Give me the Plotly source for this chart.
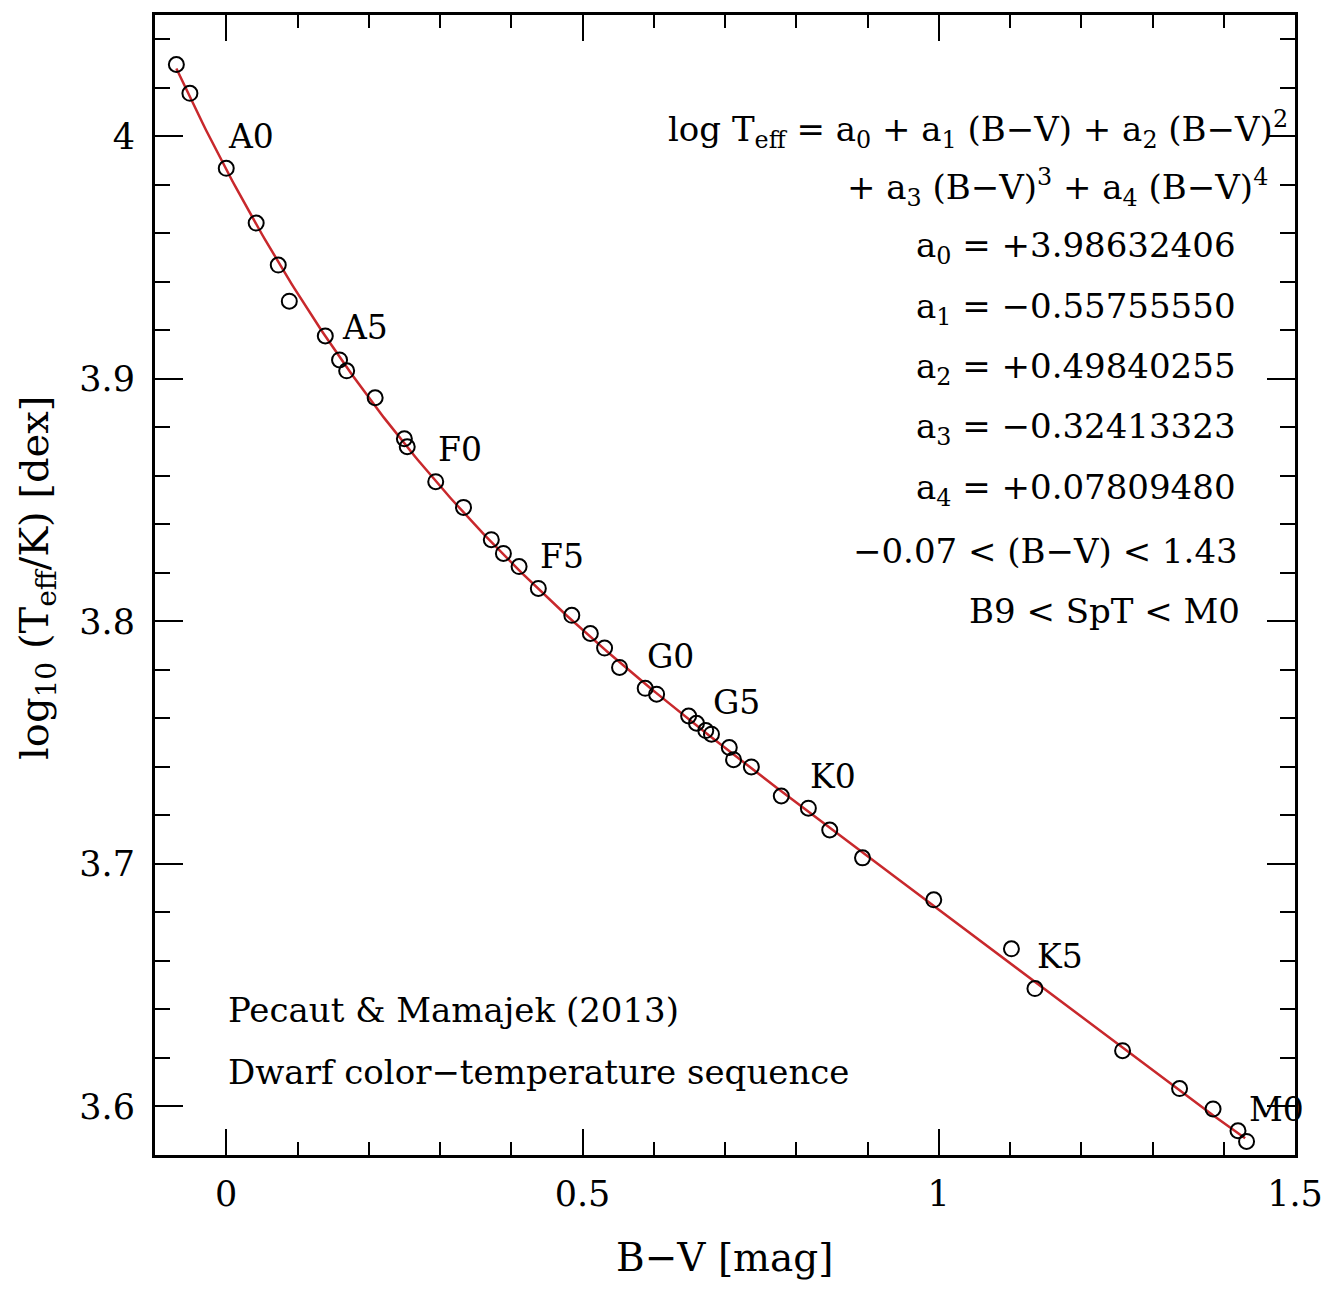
import numpy as np
import plotly.graph_objects as go

# B-V colour [mag] and log10(Teff/K) of the dwarf sequence (B9V ... M0V)
bv = [-0.070, -0.051, 0.000, 0.042, 0.073, 0.0885, 0.139, 0.159, 0.169, 0.209,
      0.250, 0.254, 0.294, 0.333, 0.372, 0.389, 0.411, 0.438, 0.485, 0.511,
      0.531, 0.552, 0.588, 0.604, 0.649, 0.660, 0.673, 0.681, 0.706, 0.712,
      0.737, 0.779, 0.817, 0.847, 0.893, 0.993, 1.102, 1.135, 1.258, 1.338,
      1.385, 1.420, 1.432]
log_teff = [4.0296, 4.0177, 3.9868, 3.9642, 3.9469, 3.9320, 3.9177, 3.9078, 3.9033, 3.8922,
            3.8753, 3.8720, 3.8576, 3.8470, 3.8337, 3.8280, 3.8226, 3.8136, 3.8025, 3.7950,
            3.7890, 3.7810, 3.7724, 3.7700, 3.7610, 3.7580, 3.7550, 3.7535, 3.7480, 3.7430,
            3.7400, 3.7280, 3.7230, 3.7140, 3.7025, 3.6852, 3.6650, 3.6486, 3.6230, 3.6074,
            3.5990, 3.5900, 3.5856]

# spectral type labels and the index of the point they mark
spt_labels = ["A0", "A5", "F0", "F5", "G0", "G5", "K0", "K5", "M0"]
spt_index = [2, 7, 12, 17, 22, 27, 32, 37, 42]

# polynomial fit coefficients a0..a4 and validity range
coeffs = [3.98632406, -0.55755550, 0.49840255, -0.32413323, 0.07809480]
fit_range = [-0.07, 1.43]

x_ticks = [0, 0.5, 1, 1.5]
x_ticktext = ["0", "0.5", "1", "1.5"]
y_ticks = [3.6, 3.7, 3.8, 3.9, 4.0]
y_ticktext = ["3.6", "3.7", "3.8", "3.9", "4"]

FONT = "DejaVu Serif"
TXT = 34

xf = np.linspace(fit_range[0], fit_range[1], 400)
yf = sum(c * xf ** i for i, c in enumerate(coeffs))

fig = go.Figure()
fig.add_trace(go.Scatter(x=xf, y=yf, mode="lines",
                         line=dict(color="#c8282c", width=2.5),
                         hoverinfo="skip", showlegend=False))
fig.add_trace(go.Scatter(x=bv, y=log_teff, mode="markers",
                         marker=dict(symbol="circle-open", size=15,
                                     color="black", line=dict(width=2, color="black")),
                         showlegend=False))

for lab, i in zip(spt_labels, spt_index):
    fig.add_annotation(x=bv[i], y=log_teff[i], text=lab, showarrow=False,
                       xanchor="left", yanchor="middle", xshift=0, yshift=32,
                       font=dict(family=FONT, size=33, color="black"))

# screen-pixel frame of the plotting area in the target picture
L, R, T, B = 155, 1299, 12, 1155
W, H = R - L, B - T
OFF = 8  # page body margin
def px(x): return (x - L) / W
def py(y): return 1 - (y - T) / H

eq_lines = [
    ("log T<sub>eff</sub> = a<sub>0</sub> + a<sub>1</sub> (B\u2212V) + a<sub>2</sub> (B\u2212V)<sup>2</sup>", 1294, 127),
    ("+ a<sub>3</sub> (B\u2212V)<sup>3</sup> + a<sub>4</sub> (B\u2212V)<sup>4</sup>", 1274, 185),
    ("a<sub>0</sub> = +3.98632406", 1242, 245),
    ("a<sub>1</sub> = \u22120.55755550", 1242, 306),
    ("a<sub>2</sub> = +0.49840255", 1242, 366),
    ("a<sub>3</sub> = \u22120.32413323", 1242, 427),
    ("a<sub>4</sub> = +0.07809480", 1242, 488),
    ("\u22120.07 < (B\u2212V) < 1.43", 1244, 549),
    ("B9 < SpT < M0", 1246, 610),
]
for txt, xr, yc in eq_lines:
    fig.add_annotation(xref="paper", yref="paper", x=px(xr), y=py(yc), text=txt,
                       showarrow=False, xanchor="right", yanchor="middle",
                       font=dict(family=FONT, size=TXT, color="black"))

for txt, yc in [("Pecaut &amp; Mamajek (2013)", 1010),
                ("Dwarf color\u2212temperature sequence", 1072)]:
    fig.add_annotation(xref="paper", yref="paper", x=px(226), y=py(yc), text=txt,
                       showarrow=False, xanchor="left", yanchor="middle",
                       font=dict(family=FONT, size=TXT, color="black"))

fig.add_annotation(xref="paper", yref="paper", x=px(727), y=py(1258),
                   text="B\u2212V [mag]", showarrow=False,
                   xanchor="center", yanchor="middle",
                   font=dict(family=FONT, size=39, color="black"))
fig.add_annotation(xref="paper", yref="paper", x=px(36), y=py(576),
                   text="log<sub>10</sub> (T<sub>eff</sub>/K) [dex]", showarrow=False,
                   textangle=-90, xanchor="center", yanchor="middle",
                   font=dict(family=FONT, size=40, color="black"))

axis_common = dict(showgrid=False, zeroline=False, showline=True, linecolor="black",
                   linewidth=3, mirror="allticks", ticks="inside", tickwidth=2,
                   tickcolor="black",
                   tickfont=dict(family=FONT, size=35, color="black"))
fig.update_xaxes(range=[-0.1, 1.5], tickvals=x_ticks, ticktext=x_ticktext, ticklen=26,
                 minor=dict(dtick=0.1, tick0=0, ticks="inside", ticklen=13,
                            tickwidth=2, tickcolor="black", showgrid=False),
                 ticklabelstandoff=6, **axis_common)
fig.update_yaxes(range=[3.58, 4.05], tickvals=y_ticks, ticktext=y_ticktext, ticklen=28,
                 minor=dict(dtick=0.02, tick0=3.6, ticks="inside", ticklen=15,
                            tickwidth=2, tickcolor="black", showgrid=False),
                 ticklabelstandoff=10, **axis_common)

FW, FH = 1335 - 2 * OFF, 1289 - 2 * OFF
fig.update_layout(width=FW, height=FH, autosize=False,
                  margin=dict(l=L - OFF, r=FW - (R - OFF), t=T - OFF, b=FH - (B - OFF)),
                  plot_bgcolor="white", paper_bgcolor="white")

fig.write_html("out.html")
